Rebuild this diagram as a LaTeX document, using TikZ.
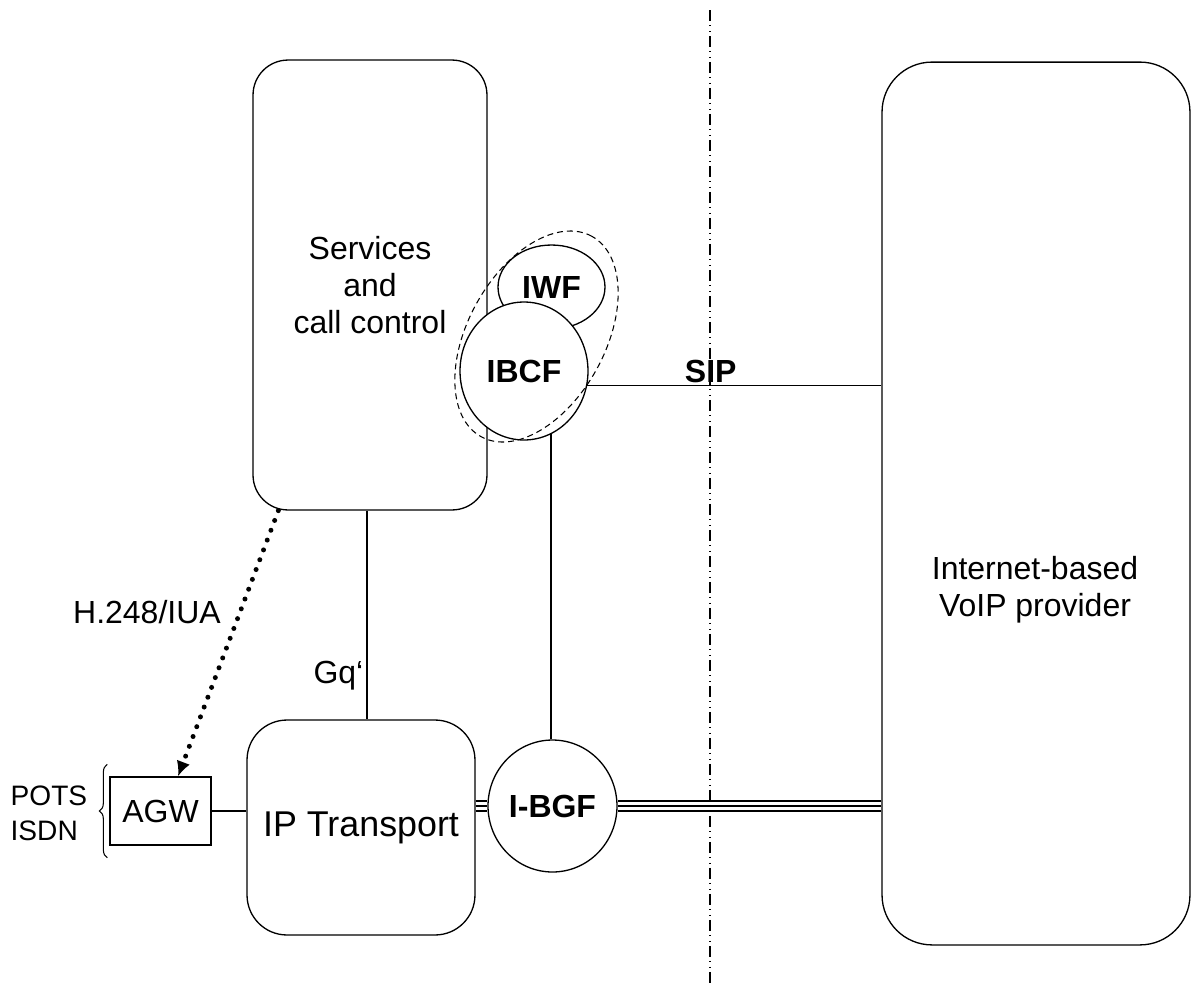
\documentclass[tikz,border=0pt]{standalone}
\usepackage{fontspec}
\setmainfont{Liberation Sans}
\usepackage{tikz}
\usetikzlibrary{arrows.meta,shapes.geometric,decorations.pathreplacing}

\begin{document}
\begin{tikzpicture}[x=0.02cm,y=-0.02cm,line width=0.75pt,
    txt/.style={inner sep=0pt,font=\fontsize{18.2}{21}\selectfont},
    blk/.style={draw,rectangle,inner sep=0pt,align=center,font=\fontsize{18.2}{21}\selectfont},
    fn/.style={draw,ellipse,fill=white,inner sep=0pt,font=\fontsize{18.2}{21}\selectfont\bfseries}]
      \useasboundingbox (0,0) rectangle (1198,988);
      % border between the two domains
      \coordinate (sepT) at (710,10);
      \coordinate (sepB) at (710,985);
      \draw [line width=0.6pt,dash pattern=on 0.22cm off 0.08cm on 0.02cm off 0.1cm on 0.02cm off 0.08cm] (sepT) -- (sepB);
      \node [blk,rounded corners=0.7cm,minimum width=4.68cm,minimum height=9cm] (scc) at (370,285) {Services\\and\\call control};
      \node [blk,rounded corners=0.8cm,minimum width=4.56cm,minimum height=4.3cm,font=\fontsize{20.4}{24}\selectfont] (ipt) at (361,827.5) {IP Transport};
      \node [blk,rounded corners=1cm,minimum width=6.16cm,minimum height=17.66cm] (voip) at (1036,503.5) {};
      \node [txt,align=center] (voiptxt) at (1035,590) {Internet-based\\VoIP provider};
      \node [blk,minimum width=2.02cm,minimum height=1.36cm] (agw) at (160.5,811) {AGW};
      \node [fn,minimum width=2.14cm,minimum height=1.68cm] (iwf) at (551.5,287) {IWF};
      \node [fn,minimum width=2.56cm,minimum height=2.76cm] (ibcf) at (524,371) {IBCF};
      \node [fn,minimum width=2.58cm,minimum height=2.64cm] (ibgf) at (552.5,806) {I-BGF};
      \draw [line width=0.6pt,dash pattern=on 0.12cm off 0.08cm,rotate around={61:(536.5,336.5)}] (536.5,336.5) ellipse [x radius=2.29cm, y radius=1.37cm];
      % signalling
      \draw (ibcf.-13) -- (ibcf.-13 -| voip.west) node [pos=0.42,above,inner sep=1pt,font=\fontsize{18.2}{21}\selectfont\bfseries] {SIP};
      \draw (ibcf.-67) -- (ibcf.-67 |- ibgf.north);
      \path (scc.south) ++(-3,0) coordinate (gqa);
      \draw (gqa) -- (gqa |- ipt.north) node [pos=0.83,anchor=base east,xshift=-0.06cm,txt] {Gq‘};
      \draw [line width=0.1cm,line cap=round,dash pattern=on 0pt off 0.21cm,-{Latex[length=0.3cm,width=0.28cm]}] ([xshift=0.52cm]scc.south west) -- ([xshift=0.35cm]agw.north) node [pos=0.38,left=0.34cm,txt] {H.248/IUA};
      % media
      \draw (agw.east) -- (agw.east -| ipt.west);
      \coordinate (tl) at (ipt.east |- ibgf.west);
      \coordinate (tr) at (voip.west |- ibgf.east);
      \foreach \d in {-0.1,0,0.1} {
        \draw [line width=0.7pt] ([yshift=\d cm]tl) -- ([yshift=\d cm]ibgf.west);
        \draw [line width=0.7pt] ([yshift=\d cm]ibgf.east) -- ([yshift=\d cm]tr);
      }
      % access lines
      \draw [line width=0.6pt,decorate,decoration={brace,amplitude=0.16cm}] ([xshift=-0.04cm,yshift=-0.24cm]agw.south west) -- ([xshift=-0.04cm,yshift=0.24cm]agw.north west);
      \node [anchor=west,align=left,inner sep=0pt,font=\fontsize{16}{20}\selectfont] (pots) at (10,813) {POTS\\ISDN};
\end{tikzpicture}
\end{document}
